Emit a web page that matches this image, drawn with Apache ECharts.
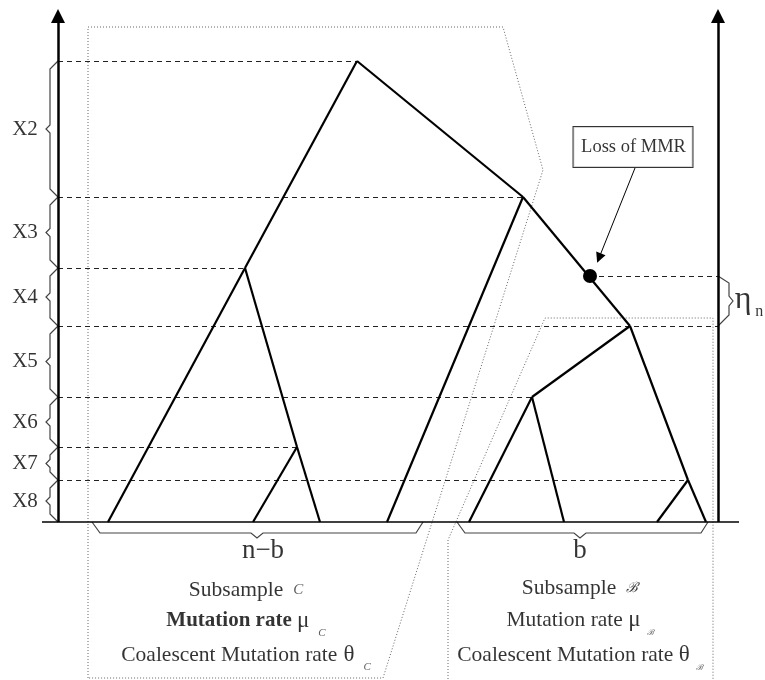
<!DOCTYPE html>
<html><head><meta charset="utf-8">
<script src="https://cdn.jsdelivr.net/npm/echarts@6/dist/echarts.min.js"></script>
<style>html,body{margin:0;padding:0;background:#fff}#c{width:765px;height:680px}</style>
</head><body><div id="c"></div>
<script>
// ---- data (x = lineage position, t = height above the sampling baseline) ----
const levelHeights = [461, 325, 254, 196, 125, 75, 42, 0];
const intervalLabels = ['X2', 'X3', 'X4', 'X5', 'X6', 'X7', 'X8'];
const levelGuideEndX = [357, 523, 245, 718, 532, 297, 688];
const nodeNames = ['R', 'A', 'B', 'C', 'D', 'E', 'F'];
const nodeX = [357, 245, 523, 630, 532, 688, 297];
const nodeT = [461, 254, 325, 196, 125, 42, 75];
const leafNames = ['L1', 'L2', 'L3', 'L4', 'L5', 'L6', 'L7', 'L8'];
const leafX = [108, 253, 320, 387, 469, 564, 657, 706];
const edgeFrom = ['R', 'R', 'A', 'A', 'F', 'F', 'B', 'B', 'C', 'C', 'D', 'D', 'E', 'E'];
const edgeTo = ['A', 'B', 'L1', 'F', 'L2', 'L3', 'L4', 'C', 'D', 'E', 'L5', 'L6', 'L7', 'L8'];
const mutationPoint = [590, 246];
const etaTop = 246, etaBottom = 196;
const subsetLabels = ['n\u2212b', 'b'];
const subsetRange = [[92, 423], [457, 708]];
const subsetMid = [257, 580];

// ---- helpers ----
const pos = {};
nodeNames.forEach((n, i) => pos[n] = [nodeX[i], nodeT[i]]);
leafNames.forEach((n, i) => pos[n] = [leafX[i], 0]);

const AX_L = 58, AX_R = 718;
const SERIF = "'Liberation Serif','DejaVu Serif',serif";

function leftBrace(top, bot) {
  const mid = (top + bot) / 2;
  return [[AX_L, top], [50, top - 8], [50, mid + 4], [46, mid], [50, mid - 4], [50, bot + 8], [AX_L, bot]];
}
function bottomBrace(a, b, m) {
  return [[a, 0], [a + 8, -11], [m - 6, -11], [m, -16], [m + 6, -11], [b - 7, -11], [b, 0]];
}

const treeEdges = edgeFrom.map((f, i) => ({coords: [pos[f], pos[edgeTo[i]]]}));
const guides = levelHeights.slice(0, 7).map((t, i) => ({coords: [[AX_L, t], [levelGuideEndX[i], t]]}));
guides.push({coords: [mutationPoint, [AX_R, mutationPoint[1]]]});

const braces = [];
for (let i = 0; i < 7; i++) braces.push({coords: leftBrace(levelHeights[i], levelHeights[i + 1])});
const em = (etaTop + etaBottom) / 2;
braces.push({coords: [[AX_R, etaTop], [729, etaTop - 7], [729, em + 5], [733, em], [729, em - 5], [729, etaBottom + 11], [AX_R, etaBottom]]});
subsetRange.forEach((r, i) => braces.push({coords: bottomBrace(r[0], r[1], subsetMid[i])}));

const polygons = [
  {coords: [[88, -156], [88, 495], [503, 495], [543, 352], [383, -156], [88, -156]]},
  {coords: [[448, -160], [448, -18], [545, 204], [713, 204], [713, -160]]}
];

const textItems = [];
const baseLabel = {show: true, position: 'inside', color: '#000', fontFamily: SERIF};
intervalLabels.forEach((l, i) => textItems.push({
  value: [25, (levelHeights[i] + levelHeights[i + 1]) / 2],
  label: Object.assign({}, baseLabel, {formatter: l, fontSize: 21})
}));
subsetLabels.forEach((l, i) => textItems.push({
  value: [subsetMid[i] + (i === 0 ? 6 : 0), -29],
  label: Object.assign({}, baseLabel, {formatter: l, fontSize: 27})
}));
const rich = {
  t: {fontSize: 21.5, fontFamily: SERIF, color: '#000'},
  tw: {fontSize: 21.5, fontFamily: SERIF, color: '#000', padding: [0, 6, 0, 0]},
  tb: {fontSize: 21, fontFamily: SERIF, color: '#000', fontWeight: 'bold'},
  g: {fontSize: 23, fontFamily: SERIF, color: '#000'},
  s: {fontSize: 11, fontFamily: SERIF, fontStyle: 'italic', color: '#333', lineHeight: 36, verticalAlign: 'bottom', padding: [0, 0, 0, 9]},
  ss: {fontSize: 8, fontFamily: "'DejaVu Serif',serif", fontStyle: 'italic', color: '#333', lineHeight: 34, verticalAlign: 'bottom', padding: [0, 0, 0, 6]},
  c: {fontSize: 15, fontFamily: SERIF, fontStyle: 'italic', color: '#333', padding: [0, 0, 0, 10]},
  cb: {fontSize: 14, fontFamily: "'DejaVu Serif',serif", fontStyle: 'italic', color: '#000', padding: [0, 0, 0, 10]}
};
const descLeft = ['{t|Subsample}{c|C}', '{tb|Mutation rate }{g|\u03bc}{s|C}', '{tw|Coalescent Mutation rate}{g|\u03b8}{s|C}'];
const descRight = ['{t|Subsample}{cb|\u212c}', '{t|Mutation rate }{g|\u03bc}{ss|\u212c}', '{t|Coalescent Mutation rate }{g|\u03b8}{ss|\u212c}'];
const descLeftT = [-68, -99, -133];
const descRightT = [-66, -98, -133];
descLeft.forEach((f, i) => textItems.push({value: [246, descLeftT[i]], label: Object.assign({}, baseLabel, {formatter: f, rich})}));
descRight.forEach((f, i) => textItems.push({value: [580, descRightT[i]], label: Object.assign({}, baseLabel, {formatter: f, rich})}));
textItems.push({value: [749, 222], label: Object.assign({}, baseLabel, {
  formatter: '{e|\u03b7}{n|n}',
  rich: {e: {fontSize: 32, fontFamily: SERIF, color: '#000'}, n: {fontSize: 16, fontFamily: SERIF, color: '#000', lineHeight: 40, verticalAlign: 'bottom', padding: [0, 0, 0, 4]}}
})});

const chart = echarts.init(document.getElementById('c'), null, {renderer: 'canvas'});
chart.setOption({
  animation: false,
  backgroundColor: '#fff',
  grid: {left: 0, right: 0, top: 0, bottom: 0},
  xAxis: {type: 'value', min: 0, max: 765, show: false},
  yAxis: {type: 'value', min: -158, max: 522, show: false},
  series: [
    {type: 'lines', coordinateSystem: 'cartesian2d', polyline: true, silent: true, z: 1,
     lineStyle: {color: '#666', width: 1, type: [1, 2], opacity: 1}, data: polygons},
    {type: 'lines', coordinateSystem: 'cartesian2d', silent: true, z: 2,
     lineStyle: {color: '#222', width: 1.2, type: [5, 4], opacity: 1}, data: guides},
    {type: 'lines', coordinateSystem: 'cartesian2d', polyline: true, silent: true, z: 2,
     lineStyle: {color: '#444', width: 1.2, opacity: 1}, data: braces},
    {type: 'lines', coordinateSystem: 'cartesian2d', silent: true, z: 3,
     lineStyle: {color: '#000', width: 2.2, opacity: 1}, data: treeEdges},
    {type: 'lines', coordinateSystem: 'cartesian2d', silent: true, z: 3,
     lineStyle: {color: '#000', width: 1.5, opacity: 1}, data: [{coords: [[42, 0], [739, 0]]}]},
    {type: 'lines', coordinateSystem: 'cartesian2d', silent: true, z: 4,
     symbol: ['none', 'triangle'], symbolSize: 14,
     lineStyle: {color: '#000', width: 2.5, opacity: 1},
     data: [{coords: [[AX_L, 0], [AX_L, 506]]}, {coords: [[AX_R, 0], [AX_R, 506]]}]},
    {type: 'lines', coordinateSystem: 'cartesian2d', silent: true, z: 4,
     symbol: ['none', 'triangle'], symbolSize: 10,
     lineStyle: {color: '#000', width: 1, opacity: 1},
     data: [{coords: [[635, 354], [599, 264]]}]},
    {type: 'scatter', symbol: 'circle', symbolSize: 14, silent: true, z: 5,
     itemStyle: {color: '#000', opacity: 1}, data: [mutationPoint]},
    {type: 'scatter', symbolSize: 1, silent: true, z: 6,
     itemStyle: {color: 'rgba(0,0,0,0)'},
     data: [{value: [633, 375], label: {show: true, position: 'inside', formatter: 'Loss of MMR',
       fontFamily: SERIF, fontSize: 18.5, color: '#000', backgroundColor: '#fff',
       borderColor: '#000', borderWidth: 1, width: 100, align: 'center', padding: [11, 9, 10, 10]}}]},
    {type: 'scatter', symbolSize: 1, silent: true, z: 6,
     itemStyle: {color: 'rgba(0,0,0,0)'}, data: textItems}
  ]
});
</script></body></html>
